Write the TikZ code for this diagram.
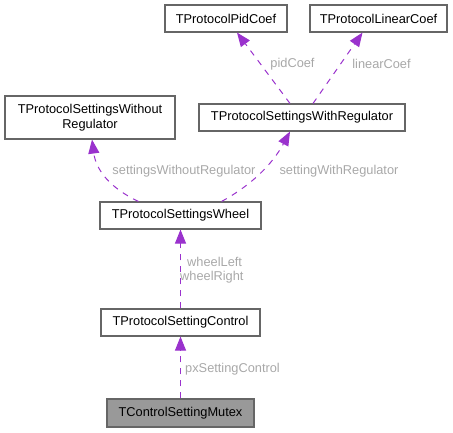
\documentclass[tikz,border=0pt]{standalone}
\usepackage{fontspec}
\setmainfont{Liberation Sans}
\usetikzlibrary{arrows.meta}
\definecolor{edgec}{HTML}{9A32CD}
\definecolor{labc}{HTML}{A8A8A8}
\definecolor{boxc}{HTML}{666666}
\definecolor{fillc}{HTML}{999999}
\begin{document}
\begin{tikzpicture}[x=1bp,y=-1bp,
  cls/.style={draw=boxc, line width=1.1bp, fill=white, inner sep=0pt, align=center,
    font=\fontsize{12.8bp}{14.5bp}\selectfont},
  edge/.style={draw=edgec, line width=1bp, dash pattern=on 6bp off 6bp,
    -{Triangle[length=14bp,width=11bp]}},
  lab/.style={text=labc, inner sep=0pt, font=\fontsize{12.8bp}{14.5bp}\selectfont}]
\useasboundingbox (0,0) rectangle (453,432);
\node[cls, minimum width=122bp, minimum height=27bp] (pid) at (226,18.5) {TProtocolPidCoef};
\node[cls, minimum width=137bp, minimum height=27bp] (lin) at (378.5,18.5) {TProtocolLinearCoef};
\node[cls, minimum width=170bp, minimum height=43bp] (wo) at (90,117.5) {TProtocolSettingsWithout\\Regulator};
\node[cls, minimum width=206bp, minimum height=27bp] (wr) at (302,117.5) {TProtocolSettingsWithRegulator};
\node[cls, minimum width=161bp, minimum height=27bp] (wh) at (180.5,215.5) {TProtocolSettingsWheel};
\node[cls, minimum width=159bp, minimum height=27bp] (ctl) at (180.5,322.5) {TProtocolSettingControl};
\node[cls, fill=fillc, minimum width=147bp, minimum height=28bp] (mx) at (180.5,413) {TControlSettingMutex};

\draw[edge] ([xshift=-12bp]wr.north) -- ([xshift=11bp]pid.south);
\draw[edge] ([xshift=11bp]wr.north) -- ([xshift=-16bp]lin.south);
\draw[edge] ([xshift=-42bp]wh.north) .. controls (110,188) and (96,170) .. ([xshift=2bp]wo.south);
\draw[edge] ([xshift=41bp]wh.north) .. controls (250,186) and (272,165) .. ([xshift=-12bp]wr.south);
\draw[edge] (ctl.north) -- (wh.south);
\draw[edge] (mx.north) -- (ctl.south);

\node[lab] (l1) at (292.5,64) {pidCoef};
\node[lab] (l2) at (381.5,64) {linearCoef};
\node[lab] (l3) at (184,171) {settingsWithoutRegulator};
\node[lab] (l4) at (339,171) {settingWithRegulator};
\node[lab, anchor=west] (l5) at (187,262) {wheelLeft};
\node[lab, anchor=west] (l6) at (180,277) {wheelRight};
\node[lab, anchor=west] (l7) at (185,369) {pxSettingControl};
\end{tikzpicture}
\end{document}
